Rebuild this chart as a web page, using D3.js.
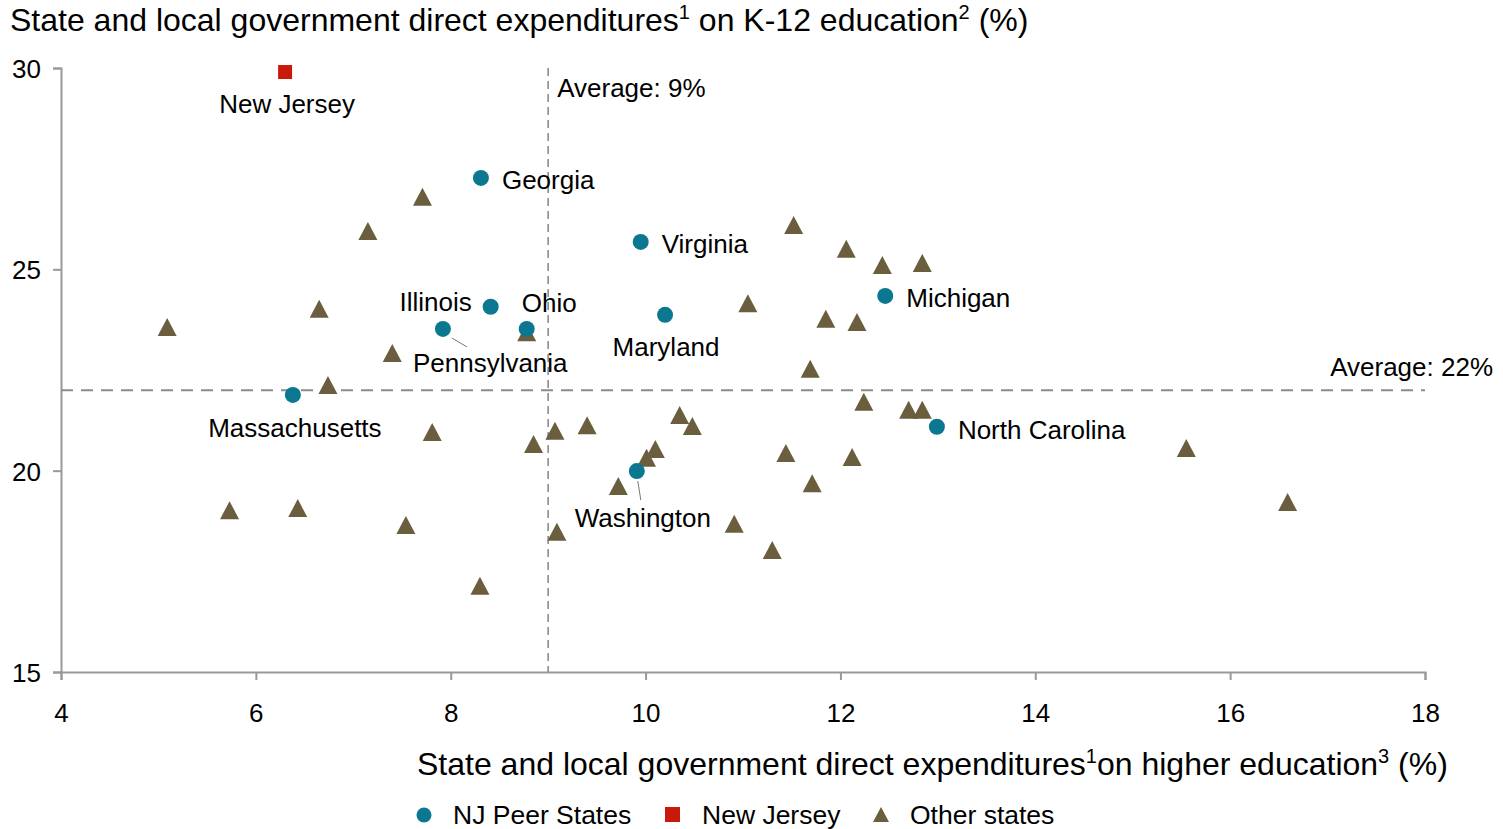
<!DOCTYPE html>
<html>
<head>
<meta charset="utf-8">
<script src="https://cdn.jsdelivr.net/npm/d3@7"></script>
<style>
  html, body { margin: 0; padding: 0; background: #fff; }
  svg { display: block; font-family: "Liberation Sans", Arial, sans-serif; }
</style>
</head>
<body>
<svg id="chart" width="1503" height="829"></svg>
<script>
// ---- Data ----
const xTicks = [4, 6, 8, 10, 12, 14, 16, 18];
const yTicks = [15, 20, 25, 30];

const peerNames = ["Georgia", "Virginia", "Illinois", "Pennsylvania", "Ohio", "Maryland", "Michigan", "Massachusetts", "North Carolina", "Washington"];
const peerX = [8.31, 9.95, 8.41, 7.92, 8.78, 10.20, 12.46, 6.38, 12.99, 9.91];
const peerY = [27.27, 25.68, 24.07, 23.52, 23.52, 23.87, 24.34, 21.88, 21.09, 19.99];

const njName = "New Jersey";
const njX = [6.30];
const njY = [29.90];

const otherX = [5.09, 5.73, 6.43, 6.65, 6.74, 7.15, 7.40, 7.54, 7.71, 7.81,
                8.30, 8.78, 8.85, 9.07, 9.09, 9.40, 9.72, 10.01, 10.10, 10.35,
                10.48, 10.91, 11.05, 11.30, 11.44, 11.52, 11.69, 11.71, 11.85, 12.06,
                12.12, 12.17, 12.24, 12.43, 12.70, 12.84, 12.84, 15.55, 16.59];
const otherY = [23.57, 19.02, 19.07, 24.02, 22.13, 25.95, 22.92, 18.65, 26.80, 20.96,
                17.14, 23.44, 20.66, 20.99, 18.48, 21.13, 19.62, 20.32, 20.54, 21.38,
                21.11, 18.68, 24.16, 18.03, 20.44, 26.10, 22.53, 19.69, 23.77, 25.51,
                20.34, 23.69, 21.71, 25.11, 21.51, 25.16, 21.51, 20.56, 19.22];

const avgX = 9;
const avgY = 22;

// ---- Styles ----
const colPeer = "#0b7790";
const colNJ = "#c8190b";
const colOther = "#6b5e3f";
const axisCol = "#999999";
const dashCol = "#8c8c8c";

const svg = d3.select("#chart");
const x = d3.scaleLinear().domain([4, 18]).range([61, 1425]);
const y = d3.scaleLinear().domain([15, 30]).range([672, 68]);

// Axes
const xAxis = d3.axisBottom(x).tickValues(xTicks).tickSize(8).tickPadding(24).tickFormat(d3.format("d"));
const yAxis = d3.axisLeft(y).tickValues(yTicks).tickSize(8).tickPadding(12).tickFormat(d3.format("d"));

const gx = svg.append("g").attr("transform", `translate(0,${y(15)})`).call(xAxis);
const gy = svg.append("g").attr("transform", `translate(${x(4)},0)`).call(yAxis);
[gx, gy].forEach(g => {
  g.select(".domain").attr("stroke", axisCol).attr("stroke-width", 2);
  g.selectAll(".tick line").attr("stroke", axisCol).attr("stroke-width", 2);
  g.selectAll(".tick text").attr("fill", "#000").attr("font-size", 26)
    .attr("font-family", "'Liberation Sans', Arial, sans-serif");
});
gy.selectAll(".tick text").attr("dy", "0.36em");

// Average lines
svg.append("line")
  .attr("x1", x(avgX)).attr("x2", x(avgX)).attr("y1", y(30)).attr("y2", y(15))
  .attr("stroke", dashCol).attr("stroke-width", 1.6).attr("stroke-dasharray", "8,5");
svg.append("line")
  .attr("x1", x(4)).attr("x2", x(18)).attr("y1", y(avgY)).attr("y2", y(avgY))
  .attr("stroke", dashCol).attr("stroke-width", 2).attr("stroke-dasharray", "12,8");

svg.append("text").attr("x", x(avgX) + 9).attr("y", y(30) + 29)
  .attr("font-size", 26).text("Average: " + avgX + "%");
svg.append("text").attr("x", 1493).attr("y", y(avgY) - 14).attr("text-anchor", "end")
  .attr("font-size", 26).text("Average: " + avgY + "%");

// Triangle path generator (centered)
const triW = 19, triH = 18;
function triPath(cx, cy) {
  return `M${cx},${cy - triH / 2}L${cx + triW / 2},${cy + triH / 2}L${cx - triW / 2},${cy + triH / 2}Z`;
}

// Other states
svg.append("g").selectAll("path").data(otherX.map((v, i) => [v, otherY[i]]))
  .join("path")
  .attr("d", d => triPath(x(d[0]), y(d[1])))
  .attr("fill", colOther);

// Peers
svg.append("g").selectAll("circle").data(peerX.map((v, i) => [v, peerY[i]]))
  .join("circle")
  .attr("cx", d => x(d[0])).attr("cy", d => y(d[1])).attr("r", 8)
  .attr("fill", colPeer);

// New Jersey
svg.append("rect")
  .attr("x", x(njX[0]) - 7).attr("y", y(njY[0]) - 7)
  .attr("width", 14).attr("height", 14).attr("fill", colNJ);

// Labels: offsets relative to point
const labelOffsets = {
  "Georgia": [21, 11, "start"],
  "Virginia": [21, 11, "start"],
  "Illinois": [-19, 4, "end"],
  "Pennsylvania": [-30, 43, "start"],
  "Ohio": [-5, -17, "start"],
  "Maryland": [1, 41, "middle"],
  "Michigan": [21, 11, "start"],
  "Massachusetts": [2, 42, "middle"],
  "North Carolina": [21, 12, "start"],
  "Washington": [6, 56, "middle"]
};
peerNames.forEach((n, i) => {
  const o = labelOffsets[n];
  svg.append("text").attr("x", x(peerX[i]) + o[0]).attr("y", y(peerY[i]) + o[1])
    .attr("text-anchor", o[2]).attr("font-size", 26).text(n);
});
svg.append("text").attr("x", x(njX[0]) + 2).attr("y", y(njY[0]) + 41)
  .attr("text-anchor", "middle").attr("font-size", 26).text(njName);

// Leader lines
const pa = peerNames.indexOf("Pennsylvania");
svg.append("line").attr("x1", x(peerX[pa]) + 9).attr("y1", y(peerY[pa]) + 9)
  .attr("x2", x(peerX[pa]) + 24).attr("y2", y(peerY[pa]) + 18)
  .attr("stroke", "#777").attr("stroke-width", 1);
const wa = peerNames.indexOf("Washington");
svg.append("line").attr("x1", x(peerX[wa]) + 1).attr("y1", y(peerY[wa]) + 10)
  .attr("x2", x(peerX[wa]) + 4).attr("y2", y(peerY[wa]) + 29)
  .attr("stroke", "#777").attr("stroke-width", 1);

// Titles
const t1 = svg.append("text").attr("x", 10).attr("y", 31).attr("font-size", 32);
t1.append("tspan").text("State and local government direct expenditures");
t1.append("tspan").attr("font-size", 20).attr("dy", -12).text("1");
t1.append("tspan").attr("dy", 12).text(" on K-12 education");
t1.append("tspan").attr("font-size", 20).attr("dy", -12).text("2");
t1.append("tspan").attr("dy", 12).text(" (%)");

const t2 = svg.append("text").attr("x", 417).attr("y", 775).attr("font-size", 32);
t2.append("tspan").text("State and local government direct expenditures");
t2.append("tspan").attr("font-size", 20).attr("dy", -12).text("1");
t2.append("tspan").attr("dy", 12).text("on higher education");
t2.append("tspan").attr("font-size", 20).attr("dy", -12).text("3");
t2.append("tspan").attr("dy", 12).text(" (%)");

// Legend
const legY = 815;
const leg = svg.append("g");
leg.append("circle").attr("cx", 424).attr("cy", legY).attr("r", 7.5).attr("fill", colPeer);
leg.append("text").attr("x", 453).attr("y", legY + 9).attr("font-size", 26.5).text("NJ Peer States");
leg.append("rect").attr("x", 665).attr("y", legY - 8).attr("width", 15).attr("height", 15).attr("fill", colNJ);
leg.append("text").attr("x", 702).attr("y", legY + 9).attr("font-size", 26.5).text("New Jersey");
leg.append("path").attr("d", `M881,${legY - 8}L889,${legY + 7}L873,${legY + 7}Z`).attr("fill", colOther);
leg.append("text").attr("x", 910).attr("y", legY + 9).attr("font-size", 26.5).text("Other states");
</script>
</body>
</html>
